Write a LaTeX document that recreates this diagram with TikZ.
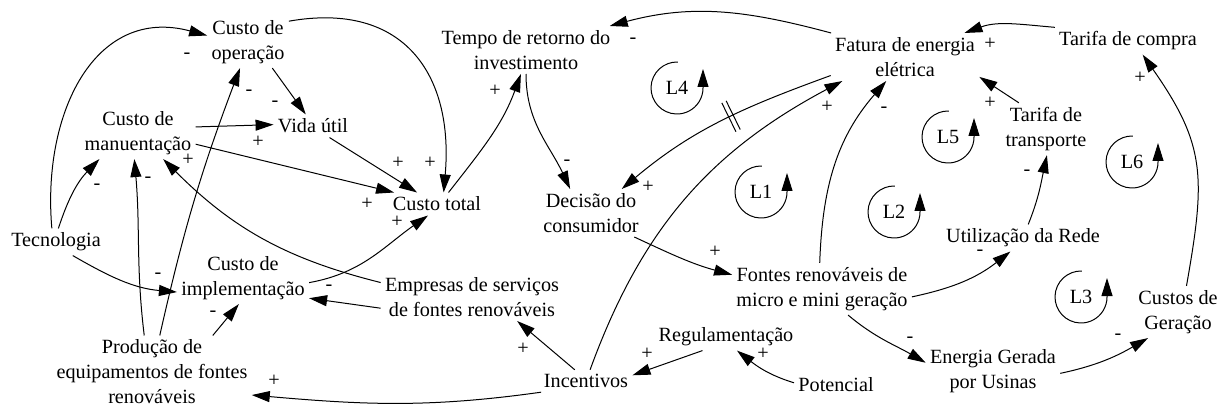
\documentclass[tikz,border=0pt]{standalone}
\usepackage{fontspec}
\setmainfont{Liberation Serif}
\newfontfamily\diagfont{Liberation Serif}
\usetikzlibrary{arrows.meta,decorations.markings}
\tikzset{
  var/.style={align=center, inner sep=2pt},
  link/.style={-{Triangle[length=9pt,width=5.5pt]}, line width=0.5pt},
  sign/.style={inner sep=0pt},
  loopmark/.style={-{Triangle[length=9pt,width=5.5pt]}, line width=0.5pt},
  delay/.style={postaction={decorate}, decoration={markings,
    mark=at position 0.45 with {\draw[-, line width=0.5pt] (-1.2pt,-8pt) -- (-1.2pt,8pt) (1.2pt,-8pt) -- (1.2pt,8pt);}}}
}
\begin{document}
\begin{tikzpicture}[x=0.5pt, y=0.5pt, font=\diagfont\fontsize{10.1}{12.5}\selectfont]
  \useasboundingbox (0,0) rectangle (1219,407);

  % Variaveis
  \node[var] (custoop) at (248,365) {Custo de\\operação};
  \node[var] (customan) at (138,274) {Custo de\\manuentação};
  \node[var] (vidautil) at (313,281) {Vida útil};
  \node[var] (custototal) at (437,203) {Custo total};
  \node[var] (tempo) at (526,357) {Tempo de retorno do\\investimento};
  \node[var] (decisao) at (591,194) {Decisão do\\consumidor};
  \node[var] (fatura) at (905,350) {Fatura de energia\\elétrica};
  \node[var] (tarifacompra) at (1128,366) {Tarifa de compra};
  \node[var] (tarifatransp) at (1046,278) {Tarifa de\\transporte};
  \node[var] (rede) at (1023,169) {Utilização da Rede};
  \node[var] (custoger) at (1178,95) {Custos de\\Geração};
  \node[var] (energia) at (993,36) {Energia Gerada\\por Usinas};
  \node[var] (fontes) at (822,118) {Fontes renováveis de\\micro e mini geração};
  \node[var] (regul) at (726,70) {Regulamentação};
  \node[var] (potencial) at (836,22) {Potencial};
  \node[var] (incentivos) at (586,26) {Incentivos};
  \node[var] (empresas) at (472,110) {Empresas de serviços\\de fontes renováveis};
  \node[var] (custoimpl) at (243,129) {Custo de\\implementação};
  \node[var] (tecnologia) at (56,165) {Tecnologia};
  \node[var] (producao) at (152,35) {Produção de\\equipamentos de fontes\\renováveis};

  % Conexoes
  \draw[link] (tecnologia.107) to[out=95,in=165,looseness=1.2] (custoop.171);
  \draw[link] (tecnologia.80) to[out=72,in=226] (customan.214);
  \draw[link] (tecnologia.321) to[out=330,in=175] (custoimpl.192);
  \draw[link] (producao.102) to[out=97,in=275] (customan.262);
  \draw[link] (producao.78) to[bend left=4] (custoop.253);
  \draw[link] (producao.31) -- (custoimpl.261);
  \draw[link] (custoop.313) -- (vidautil.122);
  \draw[link] (customan.6) -- (vidautil.178);
  \draw[link] (customan.349) -- (custototal.165);
  \draw[link] (vidautil.325) -- (custototal.150);
  \draw[link] (custoop.27) to[out=10,in=85,looseness=1.3] (custototal.60);
  \draw[link] (custoimpl.356) to[out=10,in=215] (custototal.232);
  \draw[link] (empresas.171) to[out=166,in=315] (customan.314);
  \draw[link] (empresas.187) -- (custoimpl.343);
  \draw[link] (custototal.45) to[out=52,in=250] (tempo.258);
  \draw[link] (tempo.270) to[out=270,in=115] (decisao.131);
  \draw[link] (fatura.162) to[out=165,in=15] (tempo.16);
  \draw[link, delay] (fatura.194) to[out=200,in=40] (decisao.38);
  \draw[link] (incentivos.70) to[out=70,in=208] (fatura.201);
  \draw[link] (decisao.331) to[out=335,in=165] (fontes.171);
  \draw[link] (fontes.95) to[out=88,in=229] (fatura.232);
  \draw[link] (fontes.355) to[out=12,in=218] (rede.227);
  \draw[link] (fontes.315) to[out=320,in=150] (energia.173);
  \draw[link] (energia.358) to[out=12,in=210] (custoger.221);
  \draw[link] (custoger.72) to[out=80,in=305,looseness=1.2] (tarifacompra.317);
  \draw[link] (tarifacompra.north west) to[out=175,in=20] (fatura.22);
  \draw[link] (tarifatransp.136) -- (fatura.345);
  \draw[link] (rede.69) to[out=68,in=258] (tarifatransp.272);
  \draw[link] (incentivos.135) -- (empresas.332);
  \draw[link] (incentivos.194) to[out=188,in=355] (producao.347);
  \draw[link] (regul.210) -- (incentivos.7);
  \draw[link] (potencial.177) to[out=163,in=322] (regul.309);

  % Polaridades
  \foreach \x/\y/\s [count=\i] in {187/351/-, 97/220/-, 158/131/-, 148/227/-,
      249/314/-, 213/93/-, 275/303/-, 258/265/+, 367/203/+, 398/244/+,
      430/244/+, 397/185/+, 188/247/+, 329/119/-, 495/316/+, 567/244/-,
      633/366/-, 648/220/+, 827/300/+, 715/155/+, 884/297/-, 980/154/-,
      910/67/-, 1118/70/-, 1140/329/+, 990/363/+, 990/304/+, 1027/234/-,
      523/58/+, 274/26/+, 647/53/+, 763/53/+}
    \node[sign] (p\i) at (\x,\y) {\s};

  % Lacos
  \foreach \x/\y/\l in {677/319/L4, 761/215/L1, 948/270/L5, 894/195/L2,
      1132/245/L6, 1081/110/L3} {
    \node[var] (\l) at (\x,\y) {\l};
    \draw[loopmark] (\x,\y) ++(88:26) arc[start angle=88, end angle=360, radius=26] -- ++(0,19);
  }
\end{tikzpicture}
\end{document}
